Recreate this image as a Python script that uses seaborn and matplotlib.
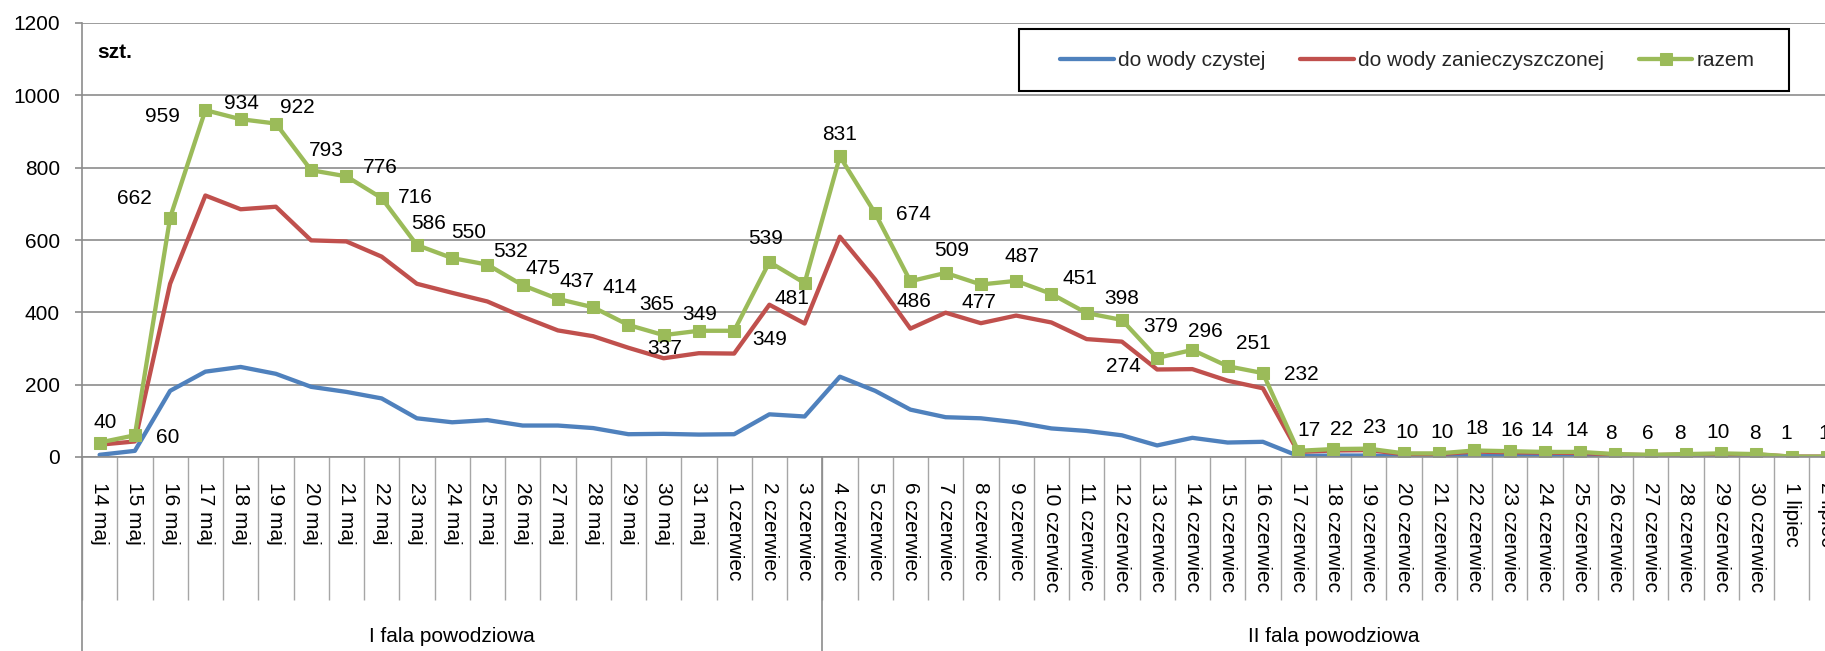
import numpy as np
import pandas as pd
import matplotlib
matplotlib.use("Agg")
import matplotlib.pyplot as plt
from matplotlib.patches import Rectangle
import seaborn as sns

# --- data -------------------------------------------------------------
dni_maj = [f"{d} maj" for d in range(14, 32)]
dni_czerwiec = [f"{d} czerwiec" for d in range(1, 31)]
dni_lipiec = ["1 lipiec", "2 lipiec"]
kategorie = dni_maj + dni_czerwiec + dni_lipiec

fale = ["I fala powodziowa", "II fala powodziowa"]
fale_dlugosc = [21, 29]

do_wody_czystej = [6, 17, 183, 236, 249, 230, 194, 180, 162, 107,
                   96, 102, 87, 87, 80, 63, 64, 62, 63, 118,
                   112, 222, 183, 131, 110, 107, 96, 79, 72, 60,
                   32, 53, 40, 42, 3, 4, 4, 2, 2, 3,
                   3, 2, 3, 1, 1, 1, 2, 1, 0, 0]
do_wody_zanieczyszczonej = [34, 43, 479, 723, 685, 692, 599, 596, 554, 479,
                            454, 430, 388, 350, 334, 302, 273, 287, 286, 421,
                            369, 609, 491, 355, 399, 370, 391, 372, 326, 319,
                            242, 243, 211, 190, 14, 18, 19, 8, 8, 15,
                            13, 12, 11, 7, 5, 7, 8, 7, 1, 1]
razem = [40, 60, 662, 959, 934, 922, 793, 776, 716, 586,
         550, 532, 475, 437, 414, 365, 337, 349, 349, 539,
         481, 831, 674, 486, 509, 477, 487, 451, 398, 379,
         274, 296, 251, 232, 17, 22, 23, 10, 10, 18,
         16, 14, 14, 8, 6, 8, 10, 8, 1, 1]

y_ticks = [0, 200, 400, 600, 800, 1000, 1200]

# --- style ------------------------------------------------------------
sns.set_theme(style="white")
plt.rcParams["font.family"] = ["Liberation Sans", "DejaVu Sans"]

BLUE = "#4F81BD"
RED = "#C0504D"
GREEN = "#9BBB59"
GRID = "#8C8C8C"
FS = 15
LW = 3.1

W, H = 1825, 651
fig = plt.figure(figsize=(W / 100, H / 100), dpi=100)
n = len(kategorie)
slot = 35.25
ax = fig.add_axes([82 / W, 194 / H, n * slot / W, 434 / H])

df = pd.DataFrame({
    "poz": np.arange(n),
    "czysta": do_wody_czystej,
    "zanieczyszczona": do_wody_zanieczyszczonej,
    "razem": razem,
})

sns.lineplot(data=df, x="poz", y="czysta", ax=ax, color=BLUE, lw=LW,
             label="do wody czystej", sort=False)
sns.lineplot(data=df, x="poz", y="zanieczyszczona", ax=ax, color=RED, lw=LW,
             label="do wody zanieczyszczonej", sort=False)
sns.lineplot(data=df, x="poz", y="razem", ax=ax, color=GREEN, lw=LW,
             marker="s", markersize=8.5, markeredgecolor=GREEN,
             markerfacecolor=GREEN, label="razem", sort=False)

# value labels for the total series (offsets in pixels, x right / y down)
label_offsets = [(6, -20), (33, 2), (-36, -19), (-43, 6), (1, -16), (21, -16),
                 (15, -20), (34, -9), (34, -1), (12, -22), (17, -26), (23, -13),
                 (20, -17), (19, -17), (27, -20), (28, -20), (1, 13), (1, -16),
                 (36, 9), (-4, -24), (-13, 15), (0, -22), (38, 1), (4, 20),
                 (6, -22), (-2, 18), (6, -24), (29, -15), (35, -15), (39, 7),
                 (-34, 9), (13, -18), (26, -23), (38, 1), (11, -20), (8, -20),
                 (6, -21), (3, -21), (3, -21), (3, -22), (2, -21), (-3, -21),
                 (-3, -21), (-4, -21), (-3, -21), (-6, -21), (-3, -21), (-1, -21),
                 (-5, -23), (-3, -23)]
for i, (v, (dx, dy)) in enumerate(zip(razem, label_offsets)):
    ax.annotate(str(v), (i, v), xytext=(dx, -dy), textcoords="offset pixels",
                ha="center", va="center", fontsize=FS, color="black",
                zorder=5, annotation_clip=False)

# axes, grid, ticks
ax.set_xlim(-0.5, n - 0.5)
ax.set_ylim(0, 1200)
ax.set_yticks(y_ticks)
ax.set_yticklabels([str(t) for t in y_ticks])
ax.yaxis.grid(True, color=GRID, lw=1.2)
ax.xaxis.grid(False)
ax.set_axisbelow(True)
ax.set_xlabel("")
ax.set_ylabel("")
for side in ["top", "right"]:
    ax.spines[side].set_visible(False)
for side in ["left", "bottom"]:
    ax.spines[side].set_color(GRID)
    ax.spines[side].set_linewidth(1.2)

ax.tick_params(axis="y", which="major", left=True, length=5, width=1.2,
               color=GRID, labelsize=FS, pad=11, labelcolor="black")
ax.set_xticks(np.arange(n))
ax.set_xticklabels(kategorie, rotation=270, ha="center", va="top")
ax.tick_params(axis="x", which="major", bottom=True, length=0,
               labelsize=FS, pad=18, labelcolor="black")
ax.set_xticks(np.arange(n + 1) - 0.5, minor=True)
ax.tick_params(axis="x", which="minor", bottom=True, length=103, width=1.0,
               color="#A6A6A6", direction="out")

# group separators and group names below the category labels
xt = ax.get_xaxis_transform()
granice = np.concatenate([[0], np.cumsum(fale_dlugosc)]) - 0.5
for b in granice[:-1]:
    ax.plot([b, b], [0, -194 / 434], transform=xt, color=GRID, lw=1.2,
            clip_on=False)
for name, a, b in zip(fale, granice[:-1], granice[1:]):
    ax.text((a + b) / 2, -180 / 434, name, transform=xt, ha="center",
            va="center", fontsize=FS, color="black")

# unit label
fig.text(97 / W, 1 - 52 / H, "szt.", ha="left", va="center",
         fontsize=FS, fontweight="bold", color="black")

# legend in a framed box
frame = Rectangle((1019 / W, 1 - 91 / H), 770 / W, 62 / H,
                  transform=fig.transFigure, facecolor="white",
                  edgecolor="black", lw=1.5, zorder=6, clip_on=False)
ax.add_artist(frame)
handles, labels = ax.get_legend_handles_labels()
leg = ax.legend(handles, labels, ncol=3, frameon=False, loc="center",
                bbox_to_anchor=(1407.5 / W, 1 - 61 / H),
                bbox_transform=fig.transFigure, handlelength=2.57,
                handletextpad=0.2, columnspacing=1.67, numpoints=1,
                fontsize=FS)
leg.set_zorder(7)

fig.savefig("out.png", dpi=100)
